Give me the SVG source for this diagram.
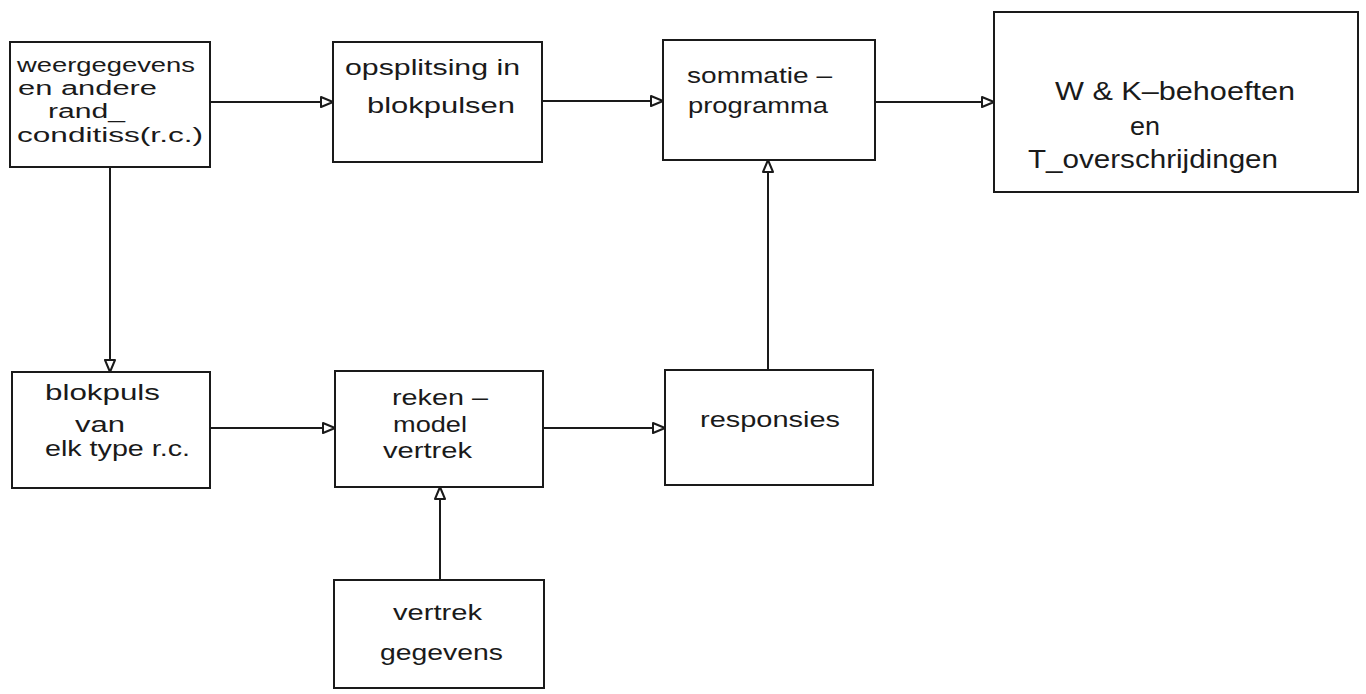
<svg xmlns="http://www.w3.org/2000/svg" width="1366" height="694" viewBox="0 0 1366 694">
  <defs>
    <marker id="arr" viewBox="0 0 14 14" refX="13" refY="7" markerWidth="14" markerHeight="14" markerUnits="userSpaceOnUse" orient="auto">
      <path d="M1,2 L13,7 L1,12 Z" fill="#fff" stroke="#1a1a1a" stroke-width="2" stroke-linejoin="round"/>
    </marker>
  </defs>
  <style>
    .box { fill: none; stroke: #1a1a1a; stroke-width: 2; }
    .lbl { font-family: "Liberation Sans", Arial, sans-serif; font-size: 22px; fill: #1a1a1a; }
    .sm { font-size: 20px; }
    .big { font-size: 25px; }
    .con { fill: none; stroke: #1a1a1a; stroke-width: 2; marker-end: url(#arr); }
  </style>
  <rect width="1366" height="694" fill="#ffffff"/>

  <g id="connectors">
    <line class="con" x1="210" y1="102" x2="333" y2="102"/>
    <line class="con" x1="542" y1="101" x2="663" y2="101"/>
    <line class="con" x1="875" y1="102" x2="994" y2="102"/>
    <line class="con" x1="110" y1="167" x2="110" y2="372"/>
    <line class="con" x1="210" y1="428" x2="335" y2="428"/>
    <line class="con" x1="543" y1="428" x2="665" y2="428"/>
    <line class="con" x1="768" y1="370" x2="768" y2="160"/>
    <line class="con" x1="440" y1="580" x2="440" y2="487"/>
  </g>

  <g id="weergegevens">
    <rect class="box" x="10" y="42" width="200" height="125"/>
    <text class="lbl sm" x="17" y="72" textLength="178" lengthAdjust="spacingAndGlyphs">weergegevens</text>
    <text class="lbl sm" x="18" y="95" textLength="139" lengthAdjust="spacingAndGlyphs">en andere</text>
    <text class="lbl sm" x="48" y="118" textLength="77" lengthAdjust="spacingAndGlyphs">rand_</text>
    <text class="lbl sm" x="17" y="142" textLength="186" lengthAdjust="spacingAndGlyphs">conditiss(r.c.)</text>
  </g>

  <g id="opsplitsing">
    <rect class="box" x="333" y="42" width="209" height="120"/>
    <text class="lbl" x="345" y="75" textLength="175" lengthAdjust="spacingAndGlyphs">opsplitsing in</text>
    <text class="lbl" x="367" y="113" textLength="148" lengthAdjust="spacingAndGlyphs">blokpulsen</text>
  </g>

  <g id="sommatie">
    <rect class="box" x="663" y="40" width="212" height="120"/>
    <text class="lbl" x="687" y="83" textLength="145" lengthAdjust="spacingAndGlyphs">sommatie –</text>
    <text class="lbl" x="688" y="113" textLength="140" lengthAdjust="spacingAndGlyphs">programma</text>
  </g>

  <g id="behoeften">
    <rect class="box" x="994" y="12" width="364" height="180"/>
    <text class="lbl big" x="1055" y="100" textLength="240" lengthAdjust="spacingAndGlyphs">W &amp; K–behoeften</text>
    <text class="lbl big" x="1130" y="135" textLength="30" lengthAdjust="spacingAndGlyphs">en</text>
    <text class="lbl big" x="1028" y="168" textLength="250" lengthAdjust="spacingAndGlyphs">T_overschrijdingen</text>
  </g>

  <g id="blokpuls">
    <rect class="box" x="12" y="372" width="198" height="116"/>
    <text class="lbl" x="45" y="400" textLength="115" lengthAdjust="spacingAndGlyphs">blokpuls</text>
    <text class="lbl" x="75" y="432" textLength="50" lengthAdjust="spacingAndGlyphs">van</text>
    <text class="lbl" x="45" y="456" textLength="145" lengthAdjust="spacingAndGlyphs">elk type r.c.</text>
  </g>

  <g id="rekenmodel">
    <rect class="box" x="335" y="371" width="208" height="116"/>
    <text class="lbl" x="392" y="405" textLength="96" lengthAdjust="spacingAndGlyphs">reken –</text>
    <text class="lbl" x="393" y="432" textLength="74" lengthAdjust="spacingAndGlyphs">model</text>
    <text class="lbl" x="383" y="458" textLength="89" lengthAdjust="spacingAndGlyphs">vertrek</text>
  </g>

  <g id="responsies">
    <rect class="box" x="665" y="370" width="208" height="115"/>
    <text class="lbl" x="700" y="427" textLength="140" lengthAdjust="spacingAndGlyphs">responsies</text>
  </g>

  <g id="vertrekgegevens">
    <rect class="box" x="334" y="580" width="210" height="108"/>
    <text class="lbl" x="393" y="620" textLength="89" lengthAdjust="spacingAndGlyphs">vertrek</text>
    <text class="lbl" x="380" y="660" textLength="123" lengthAdjust="spacingAndGlyphs">gegevens</text>
  </g>
</svg>
